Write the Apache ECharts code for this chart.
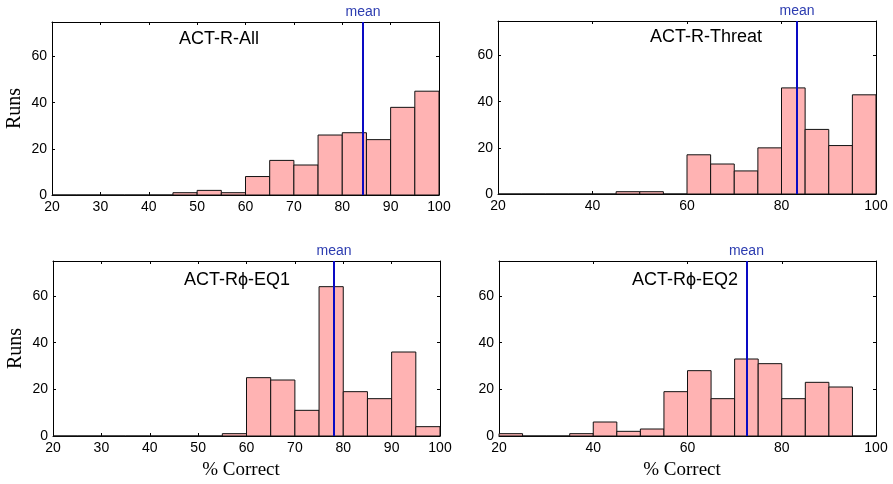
<!DOCTYPE html>
<html>
<head>
<meta charset="utf-8">
<script src="https://cdn.jsdelivr.net/npm/echarts@6/dist/echarts.min.js"></script>
<style>
html,body{margin:0;padding:0;background:#fff;}
#chart{width:893px;height:484px;}
</style>
</head>
<body>
<div id="chart"></div>
<script>
// Histogram bins (% correct), 5-point wide
const binStarts = [20,25,30,35,40,45,50,55,60,65,70,75,80,85,90,95];
const binWidth = 5;
// Runs per bin for each model
const allRuns    = [0,0,0,0,0,1,2,1,8,15,13,26,27,24,38,45];
const threatRuns = [0,0,0,0,0,1,1,0,17,13,10,20,46,28,21,43];
const eq1Runs    = [0,0,0,0,0,0,0,1,25,24,11,64,19,16,36,4];
const eq2Runs    = [1,0,0,1,6,2,3,19,28,16,33,31,16,23,21,0];
// Mean % correct for each model
const meanValues = [84.3, 83.3, 78.1, 72.5];
const panelTitles = ['ACT-R-All', 'ACT-R-Threat', 'ACT-R\u03d5-EQ1', 'ACT-R\u03d5-EQ2'];
const yTicks = [0, 20, 40, 60];

const panelRuns = [allRuns, threatRuns, eq1Runs, eq2Runs];
const SANS = '"Liberation Sans", Arial, Helvetica, sans-serif';
const SERIF = '"Liberation Serif", "Times New Roman", serif';

const grids = [
  {left: 52, top: 22, width: 387, height: 173},
  {left: 498, top: 21, width: 378, height: 173},
  {left: 53, top: 261, width: 387, height: 175},
  {left: 499, top: 261, width: 377, height: 175}
];
const xIntervals = [10, 20, 10, 20];
const titlePos = [[219, 39], [706, 37], [237, 280], [685, 280]];

const xAxes = [], yAxes = [], series = [], graphics = [];
grids.forEach((g, i) => {
  const isLeft = (i % 2 === 0);
  const isBottom = i >= 2;
  const xBase = {
    gridIndex: i, type: 'value', min: 20, max: 100, interval: xIntervals[i],
    axisLine: {show: true, onZero: false, lineStyle: {color: '#000', width: 1}},
    axisTick: {show: true, inside: true, length: 3, lineStyle: {color: '#000'}},
    splitLine: {show: false}
  };
  xAxes.push(Object.assign({}, xBase, {
    position: 'bottom',
    axisLabel: {show: true, color: '#000', fontFamily: SANS, fontSize: 14, margin: 5},
    name: isBottom ? '% Correct' : '',
    nameLocation: 'middle', nameGap: 25,
    nameTextStyle: {color: '#000', fontFamily: SERIF, fontSize: 19, padding: [0, 11, 0, 0]}
  }));
  xAxes.push(Object.assign({}, xBase, {position: 'top', axisLabel: {show: false}}));
  const yBase = {
    gridIndex: i, type: 'value', min: 0, max: 75, interval: 20,
    axisLine: {show: true, onZero: false, lineStyle: {color: '#000', width: 1}},
    axisTick: {show: true, inside: true, length: 3, lineStyle: {color: '#000'}},
    splitLine: {show: false}
  };
  yAxes.push(Object.assign({}, yBase, {
    position: 'left',
    axisLabel: {show: true, color: '#000', fontFamily: SANS, fontSize: 14, margin: 5,
      showMaxLabel: false,
      formatter: v => (yTicks.indexOf(v) >= 0 ? String(v) : '')},
    name: isLeft ? 'Runs' : '',
    nameLocation: 'middle', nameGap: 27,
    nameTextStyle: {color: '#000', fontFamily: SERIF, fontSize: 20}
  }));
  yAxes.push(Object.assign({}, yBase, {position: 'right', axisLabel: {show: false}}));

  const runs = panelRuns[i];
  const data = binStarts.map((s, k) => [s, s + binWidth, runs[k]]);
  series.push({
    type: 'custom',
    xAxisIndex: 2 * i, yAxisIndex: 2 * i,
    encode: {x: [0, 1], y: 2},
    data: data,
    renderItem: function (params, api) {
      const p0 = api.coord([api.value(0), api.value(2)]);
      const p1 = api.coord([api.value(1), 0]);
      return {
        type: 'rect',
        shape: {x: p0[0], y: p0[1], width: p1[0] - p0[0], height: p1[1] - p0[1]},
        style: {fill: '#ffb3b3', stroke: '#111', lineWidth: 1}
      };
    },
    markLine: {
      silent: true,
      symbol: ['none', 'none'],
      animation: false,
      lineStyle: {color: '#0a0ac4', width: 2, type: 'solid'},
      label: {show: true, position: 'end', formatter: 'mean', color: '#2c3cb0',
        fontFamily: SANS, fontSize: 14, distance: 3},
      data: [{xAxis: meanValues[i]}]
    },
    z: 3
  });
  graphics.push({
    type: 'text', x: titlePos[i][0], y: titlePos[i][1],
    style: {text: panelTitles[i], fill: '#000', font: '18px ' + SANS,
      textAlign: 'center', textVerticalAlign: 'middle'},
    z: 10
  });
});

const chart = echarts.init(document.getElementById('chart'), null, {renderer: 'canvas'});
chart.setOption({
  animation: false,
  backgroundColor: '#fff',
  grid: grids,
  xAxis: xAxes,
  yAxis: yAxes,
  series: series,
  graphic: graphics
});
</script>
</body>
</html>
